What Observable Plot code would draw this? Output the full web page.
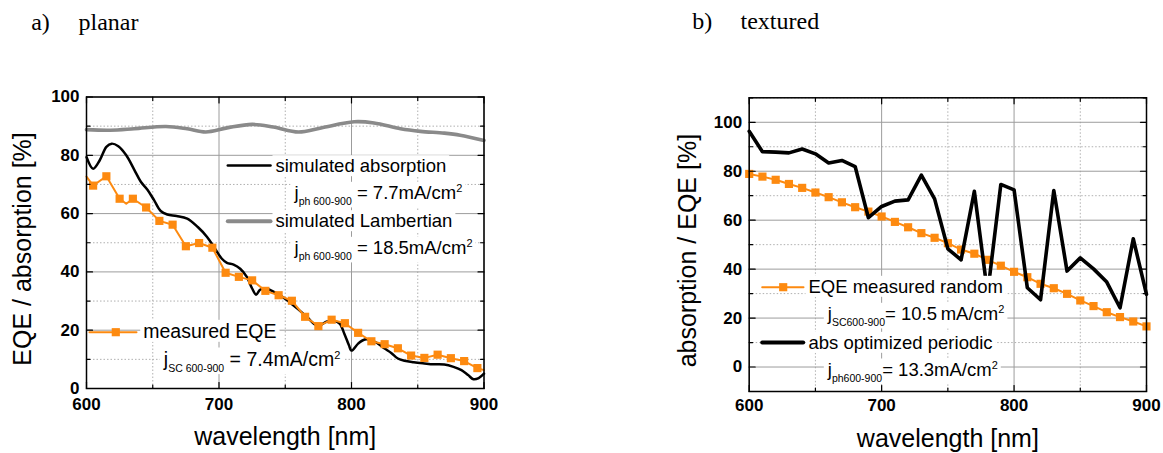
<!DOCTYPE html>
<html><head><meta charset="utf-8">
<script src="https://cdn.jsdelivr.net/npm/d3@7"></script>
<script src="https://cdn.jsdelivr.net/npm/@observablehq/plot@0.6"></script>
<style>
html,body{margin:0;padding:0;background:#fff;}
#wrap{position:relative;width:1163px;height:453px;overflow:hidden;background:#fff;}
#wrap svg{position:absolute;top:0;}
</style></head><body><div id="wrap"></div>
<script>
// ---------- data: (a) planar ----------
const planarSimNm  = [600,605,610,615,619,624,630,636,641,646,651,656,661,668,676,684,691,697,702,706,711,716,721,725,728,731,735,740,747,752,757,762,767,772,776,781,786,791,794.5,798,800,805,810,815,820,825,830,835,840,847,855,862,870,877,883,888,892,896,900];
const planarSimAbs = [79.4,75.4,78.3,82.9,84.0,83.1,80.0,75.1,70.9,68.2,64.6,60.9,59.7,59.2,58.3,55.4,52.0,48.0,44.6,43.1,42.5,41.1,38.3,34.3,32.2,33.9,34.4,33.5,31.7,30.1,28.2,26.3,24.3,22.1,21.7,22.9,23.2,22.3,18.9,14.9,13.0,15.4,16.8,16.6,15.4,13.7,12.2,10.3,9.5,9.0,8.6,8.3,8.2,7.4,6.3,4.6,3.2,3.6,5.1];
const planarLambNm  = [600,618,636,660,676,690,706,725,741,760,777,802,817,837,852,870,882,900];
const planarLambAbs = [88.8,88.6,89.1,89.9,89.1,88.0,89.4,90.6,89.7,88.0,89.4,91.5,91.1,89.1,88.2,87.6,86.9,85.1];
const planarEqeNm = [600,605,615,625,630,635,645,655,665,675,685,695,705,715,725,735,745,755,765,775,785,795,805,815,825,835,845,855,865,875,885,895,900];
const planarEqe   = [72.7,69.6,72.8,65.1,63.4,65.1,62.1,57.5,56.2,48.8,49.9,48.3,39.7,38.3,37.1,33.5,32.0,30.1,24.6,21.4,23.6,22.4,19.1,16.2,15.2,13.8,11.3,10.5,11.6,10.4,9.4,7.0,6.3];
const planarEqeMarkerNm = [605,615,625,635,645,655,665,675,685,695,705,715,725,735,745,755,765,775,785,795,805,815,825,835,845,855,865,875,885,895];

// ---------- data: (b) textured ----------
const texturedNm  = [600,610,620,630,640,650,660,670,680,690,700,710,720,730,740,750,760,770,780,790,800,810,820,830,840,850,860,870,880,890,900];
const texturedEqe = [78.9,77.8,76.5,74.8,73.2,71.3,69.4,67.3,65.3,63.5,61.5,59.3,57.1,54.7,52.8,50.6,48.0,46.3,43.8,41.4,38.9,36.7,34.0,32.2,29.9,27.2,24.9,22.4,20.4,18.6,16.6];
const texturedAbs = [96.3,88.0,87.8,87.5,89.1,87.1,83.4,84.4,81.9,61.0,65.6,67.8,68.3,78.4,68.7,48.3,43.8,71.8,30.0,74.6,72.4,32.4,27.5,72.1,39.2,44.6,40.1,34.7,24.2,52.4,29.7];

// ---------- ticks & labels ----------
const xMajor = [600,700,800,900];
const xMinor = [650,750,850];
const yMajorA = [0,20,40,60,80,100];
const yMinorA = [10,30,50,70,90];
const yMajorB = [0,20,40,60,80,100];
const yMinorB = [-10,10,30,50,70,90,110];
const xLabel = "wavelength [nm]";
const yLabelA = "EQE / absorption [%]";
const yLabelB = "absorption / EQE [%]";
const titleA = ["a)", "planar"];
const titleB = ["b)", "textured"];
const legendA = ["simulated absorption", "j_{ph 600-900} = 7.7mA/cm^{2}", "simulated Lambertian", "j_{ph 600-900} = 18.5mA/cm^{2}", "measured EQE", "j_{SC 600-900} = 7.4mA/cm^{2}"];
const legendB = ["EQE measured random", "j_{SC600-900}= 10.5\u2009mA/cm^{2}", "abs optimized periodic", "j_{ph600-900}= 13.3mA/cm^{2}"];

// ---------- styles ----------
const FONT = "'Liberation Sans', Arial, Helvetica, sans-serif";
const SERIF = "'Liberation Serif', 'Times New Roman', serif";
const ORANGE = "#fd8a10";
const GRAY = "#8a8a8a";
const lineShape = {draw(ctx, l) { ctx.moveTo(0, 0); ctx.lineTo(0, -l); }};

const zipXY = (xs, ys) => xs.map((x, i) => ({x, y: ys[i]}));

function gridMarks(yMaj, yMin) {
  const minor = {stroke: "#b0b0b0", strokeWidth: 1, strokeDasharray: "1.5,2"};
  const major = {stroke: "#9c9c9c", strokeWidth: 1};
  return [
    Plot.ruleX(xMinor, minor), Plot.ruleY(yMin, minor),
    Plot.ruleX(xMajor, major), Plot.ruleY(yMaj, major)
  ];
}
function tickMarks(yMaj, yMin) {
  const m = [];
  const common = {anchor: "start", shape: lineShape, stroke: "black", strokeWidth: 1.2};
  for (const [vals, len] of [[xMajor, 6], [xMinor, 3.5]]) {
    m.push(Plot.vector(vals, {x: d => d, frameAnchor: "bottom", rotate: 0, length: len, ...common}));
    m.push(Plot.vector(vals, {x: d => d, frameAnchor: "top", rotate: 180, length: len, ...common}));
  }
  for (const [vals, len] of [[yMaj, 6], [yMin, 3.5]]) {
    m.push(Plot.vector(vals, {y: d => d, frameAnchor: "left", rotate: 90, length: len, ...common}));
    m.push(Plot.vector(vals, {y: d => d, frameAnchor: "right", rotate: 270, length: len, ...common}));
  }
  return m;
}
function legendText(str, dx, dy, fontSize = 18.5) {
  return Plot.text([str], {text: d => d, frameAnchor: "top-left", dx, dy, textAnchor: "start", lineAnchor: "bottom",
    fontSize, fontFamily: FONT, fill: "black"});
}
function sampleLine(dx, dy, len, stroke, strokeWidth) {
  return Plot.vector([0], {frameAnchor: "top-left", dx, dy, length: len, rotate: 90, anchor: "start", shape: lineShape, stroke, strokeWidth});
}
function sampleSquare(dx, dy) {
  return Plot.dot([0], {frameAnchor: "top-left", dx, dy, symbol: "square", r: 4.6, fill: ORANGE, stroke: "none"});
}
function axisLabels(yLabel, xdy, ydx, ydy) {
  return [
    Plot.text([xLabel], {text: d => d, frameAnchor: "bottom", dy: xdy, lineAnchor: "bottom", fontSize: 25, fontFamily: FONT, fill: "black"}),
    Plot.text([yLabel], {text: d => d, frameAnchor: "left", dx: ydx, dy: ydy, rotate: -90, lineAnchor: "middle", textAnchor: "middle", fontSize: 25, fontFamily: FONT, fill: "black"})
  ];
}
function titleMarks(t, dxA, dxB, dy) {
  return [
    Plot.text([t[0]], {text: d => d, frameAnchor: "top-left", dx: dxA, dy, textAnchor: "start", lineAnchor: "bottom", fontSize: 24, fontFamily: SERIF, fill: "black"}),
    Plot.text([t[1]], {text: d => d, frameAnchor: "top-left", dx: dxB, dy, textAnchor: "start", lineAnchor: "bottom", fontSize: 24, fontFamily: SERIF, fill: "black"})
  ];
}
function axes(yMaj, xPad, yPad) {
  return [
    Plot.axisX(xMajor, {anchor: "bottom", tickSize: 0, tickPadding: xPad, fontSize: 17, fontWeight: "bold", fontFamily: FONT, label: null}),
    Plot.axisY(yMaj, {anchor: "left", tickSize: 0, tickPadding: yPad, fontSize: 17, fontWeight: "bold", fontFamily: FONT, label: null})
  ];
}

// ---------- (a) planar ----------
const simData = zipXY(planarSimNm, planarSimAbs);
const lambData = zipXY(planarLambNm, planarLambAbs);
const eqeAData = zipXY(planarEqeNm, planarEqe);
const eqeAMarkers = eqeAData.filter(d => planarEqeMarkerNm.includes(d.x));

const plotA = Plot.plot({
  width: 580, height: 453,
  marginLeft: 86, marginRight: 96.5, marginTop: 96.5, marginBottom: 65,
  x: {domain: [600, 900]}, y: {domain: [0, 100]},
  style: {background: "white", fontFamily: FONT},
  marks: [
    ...gridMarks(yMajorA, yMinorA),
    Plot.line(lambData, {x: "x", y: "y", stroke: GRAY, strokeWidth: 3.6, curve: "catmull-rom"}),
    Plot.line(simData, {x: "x", y: "y", stroke: "black", strokeWidth: 2.5, curve: "catmull-rom"}),
    Plot.line(eqeAData, {x: "x", y: "y", stroke: ORANGE, strokeWidth: 2}),
    Plot.dot(eqeAMarkers, {x: "x", y: "y", symbol: "square", r: 4.6, fill: ORANGE, stroke: "none"}),
    ...tickMarks(yMajorA, yMinorA),
    Plot.frame({stroke: "black", strokeWidth: 1.5}),
    ...axes(yMajorA, 9, 7),
    legendText(legendA[0], 189, 75.2),
    legendText(legendA[1], 208, 101.8),
    legendText(legendA[2], 189, 130.2),
    legendText(legendA[3], 208, 156.8),
    legendText(legendA[4], 56.7, 240.8, 19.5),
    legendText(legendA[5], 77.3, 268.5, 19.5),
    sampleLine(141.3, 68.5, 42.7, "black", 2.5),
    sampleLine(141.3, 124.2, 42.7, GRAY, 4),
    sampleLine(3, 235.2, 47, ORANGE, 2),
    sampleSquare(29.3, 235.2),
    ...axisLabels(yLabelA, 56, -63.7, 6.2),
    ...titleMarks(titleA, -55.3, -8, -67.5)
  ]
});

// ---------- (b) textured ----------
const eqeBData = zipXY(texturedNm, texturedEqe);
const absBData = zipXY(texturedNm, texturedAbs);

const plotB = Plot.plot({
  width: 583, height: 453,
  marginLeft: 168.7, marginRight: 17, marginTop: 97.3, marginBottom: 62,
  x: {domain: [600, 900]}, y: {domain: [-10, 110]},
  style: {background: "white", fontFamily: FONT},
  marks: [
    ...gridMarks(yMajorB, yMinorB),
    Plot.line(eqeBData, {x: "x", y: "y", stroke: ORANGE, strokeWidth: 2}),
    Plot.dot(eqeBData, {x: "x", y: "y", symbol: "square", r: 4.6, fill: ORANGE, stroke: "none"}),
    Plot.line(absBData, {x: "x", y: "y", stroke: "black", strokeWidth: 3.6}),
    ...tickMarks(yMajorB, yMinorB),
    Plot.frame({stroke: "black", strokeWidth: 1.5}),
    ...axes(yMajorB, 7, 7),
    legendText(legendB[0], 59.3, 195),
    legendText(legendB[1], 78.6, 222),
    legendText(legendB[2], 59.3, 251),
    legendText(legendB[3], 78.6, 277.7),
    sampleLine(13, 189.4, 41.3, ORANGE, 2),
    sampleSquare(34, 189.4),
    sampleLine(13, 244.7, 41, "black", 4),
    ...axisLabels(yLabelB, 55.2, -61.4, 6),
    ...titleMarks(titleB, -57, -8.7, -68.8)
  ]
});

const wrap = document.getElementById("wrap");
plotA.style.left = "0px";
plotB.style.left = "580px";
wrap.appendChild(plotA);
wrap.appendChild(plotB);

// ---------- rich text (sub/superscripts) + white legend boxes ----------
const SVGNS = "http://www.w3.org/2000/svg";
const legendSet = new Set([...legendA, ...legendB]);
function richify(el) {
  const s = el.textContent;
  const parts = s.split(/(_\{[^}]*\}|\^\{[^}]*\})/).filter(p => p.length);
  if (parts.length < 2) return;
  while (el.firstChild) el.removeChild(el.firstChild);
  let shift = 0;
  for (const p of parts) {
    let target = 0, txt = p, size = null;
    if (p.startsWith("_{")) { target = 6.6; txt = p.slice(2, -1); size = 10.5; }
    else if (p.startsWith("^{")) { target = -7; txt = p.slice(2, -1); size = 11; }
    const ts = document.createElementNS(SVGNS, "tspan");
    if (target - shift !== 0) ts.setAttribute("dy", target - shift);
    shift = target;
    if (size) ts.setAttribute("font-size", size);
    ts.textContent = txt;
    el.appendChild(ts);
  }
}
for (const svg of [plotA, plotB]) {
  Array.from(svg.querySelectorAll("text")).filter(el => legendSet.has(el.textContent)).forEach(el => {
    richify(el);
    const b = el.getBBox();
    const r = document.createElementNS(SVGNS, "rect");
    r.setAttribute("x", b.x - 3);
    r.setAttribute("y", b.y);
    r.setAttribute("width", b.width + 6);
    r.setAttribute("height", b.height);
    r.setAttribute("fill", "white");
    const tr = el.getAttribute("transform");
    if (tr) r.setAttribute("transform", tr);
    el.parentNode.insertBefore(r, el);
  });
}
</script></body></html>
